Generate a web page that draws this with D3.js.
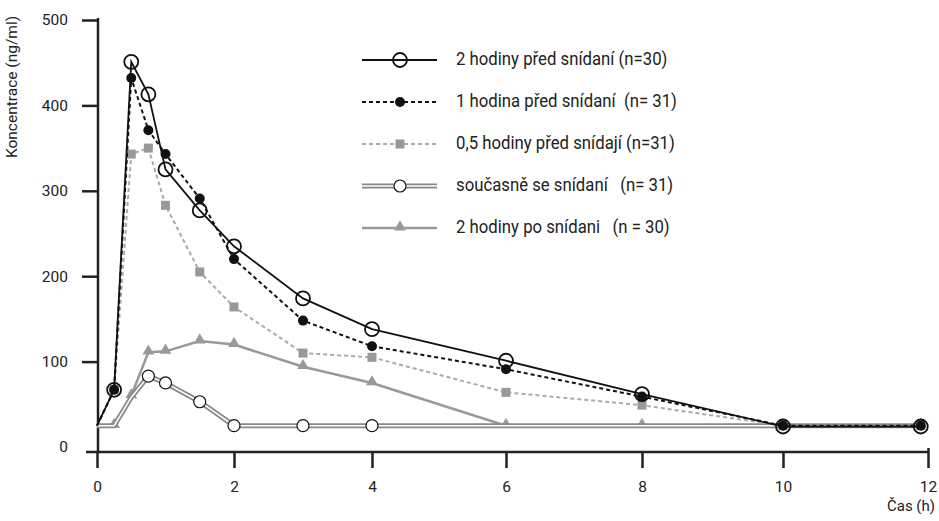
<!DOCTYPE html>
<html>
<head>
<meta charset="utf-8">
<script src="https://cdn.jsdelivr.net/npm/d3@7"></script>
<style>
  body { margin: 0; background: #fff; }
  svg text { font-family: Roboto, "Liberation Sans", sans-serif; fill: #222; }
</style>
</head>
<body>
<svg id="chart" width="939" height="521"></svg>
<script>
// time points (h); the last sample sits just short of the 12 h tick in the source
const times = [0, 0.25, 0.5, 0.75, 1, 1.5, 2, 3, 4, 6, 8, 10, 11.9];

// concentrations (ng/ml) per dosing group
const before2h = [25, 67, 451, 413, 325, 277, 235, 174, 138, 101, 62, 24, 24];
const before1h = [25, 67, 432, 371, 343, 291, 220, 148, 118, 91, 59, 25, 25];
const before05h = [25, 67, 343, 350, 283, 205, 164, 110, 105, 64, 49, 25, 25];
const withMeal = [25, 25, 58, 83, 75, 53, 25, 25, 25, 25, 25, 25, 25];
const after2h = [25, 25, 60, 111, 112, 124, 120, 94, 75, 25, 25, 25, 25];

// marker positions for the "with meal" group (later points have no marker)
const withMealMarked = [0.75, 1, 1.5, 2, 3, 4];

const legendLabels = [
  "2 hodiny před snídaní (n=30)",
  "1 hodina před snídaní  (n= 31)",
  "0,5 hodiny před snídají (n=31)",
  "současně se snídaní   (n= 31)",
  "2 hodiny po snídani   (n = 30)"
];

const yTicks = [0, 100, 200, 300, 400, 500];
const xTicks = [0, 2, 4, 6, 8, 10, 12];

const svg = d3.select('#chart');

// tick spacing in the scanned original is slightly uneven
const x = d3.scaleLinear().domain(xTicks).range([97, 234, 372, 506, 642, 783, 928]);
const y = d3.scaleLinear().domain([0, 500]).range([447, 20]);
const axisY = 452;

const line = d3.line().x(d => x(d[0])).y(d => y(d[1]));
const pairs = vals => times.map((t, i) => [t, vals[i]]);

//Axes
let yAxis = svg.append('g')
    .attr('transform', 'translate(98,0)')
    .call(d3.axisLeft(y).tickValues(yTicks).tickSize(16).tickPadding(14).tickSizeOuter(0));
yAxis.select('.domain').remove();
yAxis.selectAll('.tick line').attr('stroke', '#222').attr('stroke-width', 2.5)
    .filter(d => d === 0).remove();
yAxis.selectAll('.tick text').style('font-size', '15.5px').attr('fill', '#222');
svg.append('line').attr('x1', 98).attr('x2', 98).attr('y1', 18).attr('y2', axisY)
    .attr('stroke', '#222').attr('stroke-width', 2.5);

let xAxis = svg.append('g')
    .attr('transform', `translate(0,${axisY})`)
    .call(d3.axisBottom(x).tickValues(xTicks).tickSize(16).tickSizeOuter(0));
xAxis.select('.domain').remove();
xAxis.selectAll('.tick line').attr('stroke', '#222').attr('stroke-width', 2.5)
    .filter(d => d === 12).attr('y1', -4);
xAxis.selectAll('.tick text').style('font-size', '15.5px').attr('fill', '#222').attr('y', 29);
svg.append('line').attr('x1', 86).attr('x2', 928).attr('y1', axisY).attr('y2', axisY)
    .attr('stroke', '#222').attr('stroke-width', 2.5);

svg.append('text')
    .attr('transform', 'translate(17,87) rotate(-90)')
    .attr('text-anchor', 'middle')
    .style('font-size', '15.5px')
    .text('Koncentrace (ng/ml)');

svg.append('text')
    .attr('x', 935).attr('y', 511)
    .attr('text-anchor', 'end')
    .style('font-size', '15px')
    .text('Čas (h)');

//Series styles
const series = [
  { data: after2h, stroke: '#999', width: 2.5, dash: null, marker: 'triangle' },
  { data: withMeal, stroke: '#888', width: 5, dash: null, marker: 'smallCircle', inner: true },
  { data: before05h, stroke: '#aaa', width: 2, dash: '4,3', marker: 'square' },
  { data: before1h, stroke: '#111', width: 2, dash: '4,3', marker: 'dot' },
  { data: before2h, stroke: '#111', width: 1.8, dash: null, marker: 'openCircle' }
];

function drawLine(g, d, s) {
  g.append('path').attr('d', d).attr('fill', 'none')
      .attr('stroke', s.stroke).attr('stroke-width', s.width)
      .attr('stroke-dasharray', s.dash);
  if (s.inner) {
    g.append('path').attr('d', d).attr('fill', 'none')
        .attr('stroke', '#fff').attr('stroke-width', 1.5);
  }
}

function drawMarker(g, type, cx, cy) {
  if (type === 'triangle') {
    g.append('path').attr('d', d3.symbol(d3.symbolTriangle, 60)())
        .attr('transform', `translate(${cx},${cy - 1})`).attr('fill', '#999');
  } else if (type === 'smallCircle') {
    g.append('circle').attr('cx', cx).attr('cy', cy).attr('r', 6)
        .attr('fill', '#fff').attr('stroke', '#111').attr('stroke-width', 1.2);
  } else if (type === 'square') {
    g.append('rect').attr('x', cx - 4.5).attr('y', cy - 4.5).attr('width', 9).attr('height', 9)
        .attr('fill', '#999');
  } else if (type === 'dot') {
    g.append('circle').attr('cx', cx).attr('cy', cy).attr('r', 5).attr('fill', '#111');
  } else if (type === 'openCircle') {
    g.append('circle').attr('cx', cx).attr('cy', cy).attr('r', 7)
        .attr('fill', 'none').attr('stroke', '#111').attr('stroke-width', 1.8);
  }
}

let plot = svg.append('g');
series.forEach(s => {
  let g = plot.append('g');
  let pts = pairs(s.data);
  drawLine(g, line(pts), s);
  pts.forEach(p => {
    if (p[0] === 0) return;
    if (s.marker === 'smallCircle' && !withMealMarked.includes(p[0])) return;
    drawMarker(g, s.marker, x(p[0]), y(p[1]));
  });
});

//Legend
const legendOrder = [series[4], series[3], series[2], series[1], series[0]];
let legend = svg.append('g');
legendOrder.forEach((s, i) => {
  let ly = 60 + i * 42;
  let g = legend.append('g');
  drawLine(g, `M362,${ly}H437`, s);
  drawMarker(g, s.marker, 400, ly);
  g.append('text')
      .attr('transform', `translate(456,${ly + 4.5}) scale(0.93,1)`)
      .attr('xml:space', 'preserve').style('white-space', 'pre')
      .style('font-size', '18px')
      .text(legendLabels[i]);
});
</script>
</body>
</html>
